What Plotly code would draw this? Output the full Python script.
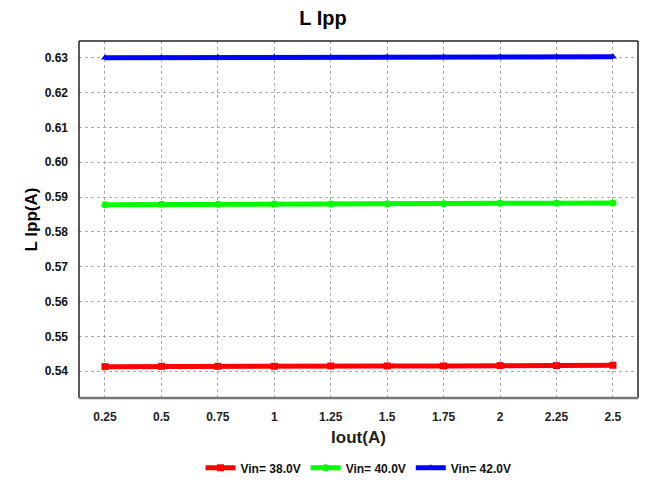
import plotly.graph_objects as go

# Output current (A)
iout = [0.25, 0.5, 0.75, 1.0, 1.25, 1.5, 1.75, 2.0, 2.25, 2.5]
x_tick_labels = ["0.25", "0.5", "0.75", "1", "1.25", "1.5", "1.75", "2", "2.25", "2.5"]

# Inductor ripple current (A) for each input voltage
ipp_38v = [0.5413, 0.5414, 0.5414, 0.5414, 0.5415, 0.5415, 0.5415, 0.5416, 0.5416, 0.5417]
ipp_40v = [0.5878, 0.5879, 0.5879, 0.5880, 0.5880, 0.5881, 0.5881, 0.5882, 0.5882, 0.5883]
ipp_42v = [0.6300, 0.6300, 0.6301, 0.6301, 0.6301, 0.6302, 0.6302, 0.6302, 0.6303, 0.6303]

y_ticks = [0.54, 0.55, 0.56, 0.57, 0.58, 0.59, 0.60, 0.61, 0.62, 0.63]
y_tick_labels = ["0.54", "0.55", "0.56", "0.57", "0.58", "0.59", "0.60", "0.61", "0.62", "0.63"]

series = [
    ("Vin= 38.0V", ipp_38v, "#ff0000", "square"),
    ("Vin= 40.0V", ipp_40v, "#00ff00", "circle"),
    ("Vin= 42.0V", ipp_42v, "#0000ff", "triangle-up"),
]

font_family = "Liberation Sans, Arial, sans-serif"

fig = go.Figure()
for name, vals, color, sym in series:
    fig.add_trace(go.Scatter(
        x=iout, y=vals, name=f"<b>{name}</b>", mode="lines+markers",
        line=dict(color=color, width=5),
        marker=dict(color=color, size=7, symbol=sym),
    ))

fig.update_layout(
    width=646, height=490,
    margin=dict(l=79, r=8, t=41, b=89),
    paper_bgcolor="white", plot_bgcolor="white",
    font=dict(family=font_family, color="#111111"),
    title=dict(text="<b>L Ipp</b>", x=0.5, xanchor="center", y=0.963, yanchor="middle",
               font=dict(size=20, color="black")),
    showlegend=True,
    legend=dict(orientation="h", x=0.5, xanchor="center", y=-0.155, yanchor="top",
                font=dict(size=12, color="#111111"), itemwidth=30, tracegroupgap=0,
                bgcolor="rgba(0,0,0,0)"),
    xaxis=dict(
        range=[0.135, 2.611], tickvals=iout, ticktext=[f"<b>{t}</b>" for t in x_tick_labels],
        tickfont=dict(size=12, color="#222222"),
        showgrid=True, gridcolor="#aaaaaa", griddash="dot", gridwidth=1,
        zeroline=False, showline=False, ticks="", ticklabelstandoff=10,
        title=dict(text="<b>Iout(A)</b>", font=dict(size=17, color="#222222"), standoff=8),
    ),
    yaxis=dict(
        range=[0.5323, 0.6348], tickvals=y_ticks, ticktext=[f"<b>{t}</b>" for t in y_tick_labels],
        tickfont=dict(size=12, color="#111111"),
        showgrid=True, gridcolor="#aaaaaa", griddash="dot", gridwidth=1,
        zeroline=False, showline=False, ticks="", ticklabelstandoff=10,
        title=dict(text="<b>L Ipp(A)</b>", font=dict(size=17, color="black"), standoff=2),
    ),
)

# Plot frame: dark left/top/right edges, thicker gray baseline
fig.add_shape(type="line", xref="paper", yref="paper", x0=0, x1=0, y0=0, y1=1,
              line=dict(color="#222222", width=1.5))
fig.add_shape(type="line", xref="paper", yref="paper", x0=0, x1=1, y0=1, y1=1,
              line=dict(color="#222222", width=1.5))
fig.add_shape(type="line", xref="paper", yref="paper", x0=1, x1=1, y0=0, y1=1,
              line=dict(color="#222222", width=1.5))
fig.add_shape(type="line", xref="paper", yref="paper", x0=0, x1=1, y0=0, y1=0,
              line=dict(color="#777777", width=2.5))

fig.write_html("out.html")
